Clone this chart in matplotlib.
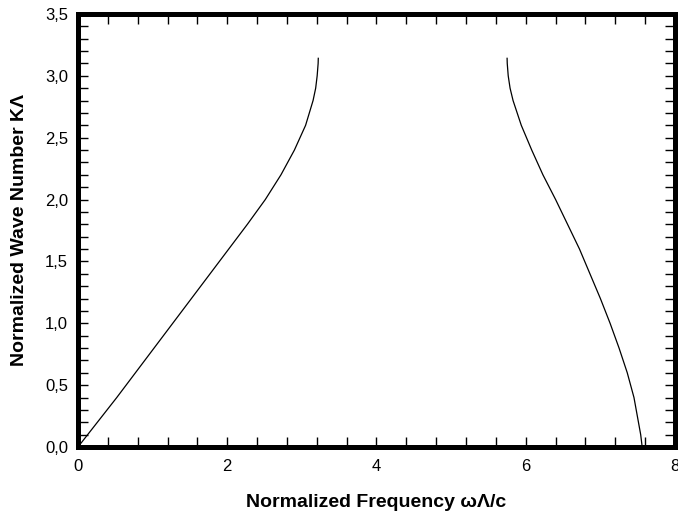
import numpy as np
import matplotlib
matplotlib.use("Agg")
import matplotlib.pyplot as plt
from matplotlib.ticker import MultipleLocator, FuncFormatter

plt.rcParams['font.family'] = ['Liberation Sans', 'DejaVu Sans']

# first band (normalized frequency, normalized wave number)
band1_w = [0.00, 0.26, 0.52, 0.77, 1.02, 1.27, 1.52, 1.77, 2.02, 2.27, 2.51, 2.72, 2.90,
           3.05, 3.15, 3.185, 3.205, 3.218, 3.22]
band1_k = [0.00, 0.20, 0.40, 0.60, 0.80, 1.00, 1.20, 1.40, 1.60, 1.80, 2.00, 2.20, 2.40,
           2.60, 2.80, 2.90, 3.00, 3.10, 3.1416]

# second band
band2_w = [5.75, 5.752, 5.765, 5.79, 5.83, 5.94, 6.08, 6.23, 6.40, 6.56, 6.72, 6.86, 7.00,
           7.13, 7.25, 7.36, 7.45, 7.51, 7.54, 7.56]
band2_k = [3.1416, 3.10, 3.00, 2.90, 2.80, 2.60, 2.40, 2.20, 2.00, 1.80, 1.60, 1.40, 1.20,
           1.00, 0.80, 0.60, 0.40, 0.20, 0.10, 0.00]

x_label = "Normalized Frequency ωΛ/c"
y_label = "Normalized Wave Number KΛ"

fig = plt.figure(figsize=(6.78, 5.17), dpi=100)
ax = fig.add_axes([0.115, 0.1354, 0.8806, 0.8376])

ax.plot(band1_w, band1_k, color='black', lw=0.9)
ax.plot(band2_w, band2_k, color='black', lw=0.9)

ax.set_xlim(0, 8)
ax.set_ylim(0, 3.5)

ax.xaxis.set_major_locator(MultipleLocator(2))
ax.xaxis.set_minor_locator(MultipleLocator(0.4))
ax.yaxis.set_major_locator(MultipleLocator(0.5))
ax.yaxis.set_minor_locator(MultipleLocator(0.1))
ax.xaxis.set_major_formatter(FuncFormatter(lambda v, p: "%d" % round(v)))
ax.yaxis.set_major_formatter(FuncFormatter(lambda v, p: ("%.1f" % v).replace('.', ',')))

ax.tick_params(which='both', direction='in', top=True, right=True, length=7, width=1, labelsize=12)
ax.tick_params(axis='x', pad=9)
ax.tick_params(axis='y', pad=7)

for s in ax.spines.values():
    s.set_linewidth(3.6)

ax.set_xlabel(x_label, fontsize=14, fontweight='bold', labelpad=14)
ax.set_ylabel(y_label, fontsize=14, fontweight='bold', labelpad=12)

fig.savefig("out.png", dpi=100)
